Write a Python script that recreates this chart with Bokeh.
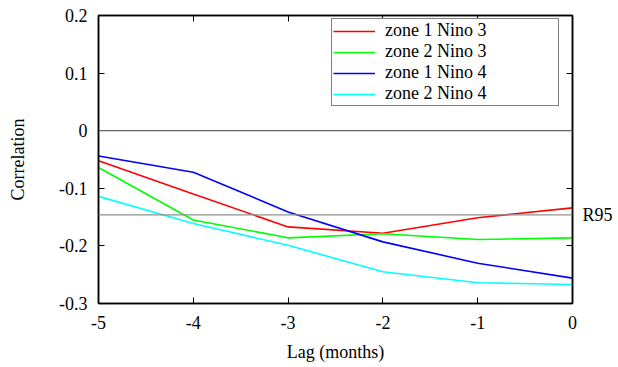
from bokeh.plotting import figure
from bokeh.models import (LinearAxis, FixedTicker, Span, Legend, LegendItem, Range1d)
from bokeh.embed import file_html
from bokeh.resources import INLINE

# ---- data ----
lags = [-5, -4, -3, -2, -1, 0]
zone1_nino3 = [-0.052, -0.110, -0.167, -0.178, -0.151, -0.134]
zone2_nino3 = [-0.064, -0.155, -0.186, -0.179, -0.189, -0.186]
zone1_nino4 = [-0.044, -0.072, -0.141, -0.193, -0.230, -0.256]
zone2_nino4 = [-0.114, -0.161, -0.199, -0.245, -0.264, -0.267]
series_names = ["zone 1 Nino 3", "zone 2 Nino 3", "zone 1 Nino 4", "zone 2 Nino 4"]
series_colors = ["#ff0000", "#00ff00", "#0000ff", "#00ffff"]
r95_value = -0.146
r95_label = "R95"
zero_value = 0.0
x_ticks = [-5, -4, -3, -2, -1, 0]
x_tick_labels = ["-5", "-4", "-3", "-2", "-1", "0"]
y_ticks = [-0.3, -0.2, -0.1, 0.0, 0.1, 0.2]
y_tick_labels = ["-0.3", "-0.2", "-0.1", "0", "0.1", "0.2"]

FONT = "Liberation Serif"
FS = "18px"

p = figure(width=618, height=367, output_backend="svg", toolbar_location=None,
           x_range=Range1d(-5, 0), y_range=Range1d(-0.3, 0.2),
           x_axis_location=None, y_axis_location=None,
           min_border_left=98, min_border_right=46, min_border_top=15,
           min_border_bottom=64)
p.grid.visible = False
p.outline_line_color = "black"
p.outline_line_width = 1.5
p.background_fill_color = "white"
p.border_fill_color = "white"

def style_axis(ax):
    ax.major_tick_in = 6
    ax.major_tick_out = 0
    ax.minor_tick_line_color = None
    ax.major_tick_line_color = "black"
    ax.axis_line_color = "black"
    ax.axis_line_width = 1.5
    ax.major_label_text_font = FONT
    ax.major_label_text_font_size = FS
    ax.major_label_text_color = "black"
    ax.axis_label_text_font = FONT
    ax.axis_label_text_font_size = FS
    ax.axis_label_text_font_style = "normal"
    ax.axis_label_text_color = "black"

def hide_labels(ax):
    ax.major_label_text_font_size = "0px"
    ax.major_label_text_color = None
    ax.major_label_standoff = 0

# bottom axis
xb = LinearAxis(ticker=FixedTicker(ticks=x_ticks), axis_label="Lag (months)")
style_axis(xb)
xb.major_label_standoff = 12
xb.axis_label_standoff = 10
xb.major_label_overrides = dict(zip(x_ticks, x_tick_labels))
p.add_layout(xb, "below")

# left axis
yl = LinearAxis(ticker=FixedTicker(ticks=y_ticks), axis_label="Correlation")
style_axis(yl)
yl.major_label_standoff = 11
yl.axis_label_standoff = 28
yl.major_label_overrides = dict(zip(y_ticks, y_tick_labels))
p.add_layout(yl, "left")

# top axis (mirror ticks)
xt = LinearAxis(ticker=FixedTicker(ticks=x_ticks))
style_axis(xt)
hide_labels(xt)
p.add_layout(xt, "above")

# right axis (mirror ticks)
yr = LinearAxis(ticker=FixedTicker(ticks=y_ticks))
style_axis(yr)
hide_labels(yr)
p.add_layout(yr, "right")

# right label axis for R95
yr2 = LinearAxis(ticker=FixedTicker(ticks=[r95_value]))
style_axis(yr2)
yr2.major_tick_in = 0
yr2.axis_line_color = None
yr2.major_tick_line_color = None
yr2.major_label_standoff = 10
yr2.major_label_overrides = {r95_value: r95_label}
p.add_layout(yr2, "right")

# reference lines
p.add_layout(Span(location=zero_value, dimension="width", line_color="#606060", line_width=1.2))
p.add_layout(Span(location=r95_value, dimension="width", line_color="#909090", line_width=1.2))

renderers = []
for ys, c in zip([zone1_nino3, zone2_nino3, zone1_nino4, zone2_nino4], series_colors):
    r = p.line(lags, ys, line_color=c, line_width=1.6)
    renderers.append(r)

legend = Legend(items=[LegendItem(label=n, renderers=[r]) for n, r in zip(series_names, renderers)],
                location=(233, 197))
legend.label_text_font = FONT
legend.label_text_font_size = FS
legend.label_text_color = "black"
legend.glyph_width = 42
legend.glyph_height = 20
legend.label_height = 20
legend.label_width = 172
legend.label_standoff = 10
legend.padding = 1
legend.spacing = 0
legend.margin = 0
legend.border_line_color = "black"
legend.border_line_width = 1.2
legend.background_fill_alpha = 1.0
p.add_layout(legend)

open("out.html", "w").write(file_html(p, INLINE))
